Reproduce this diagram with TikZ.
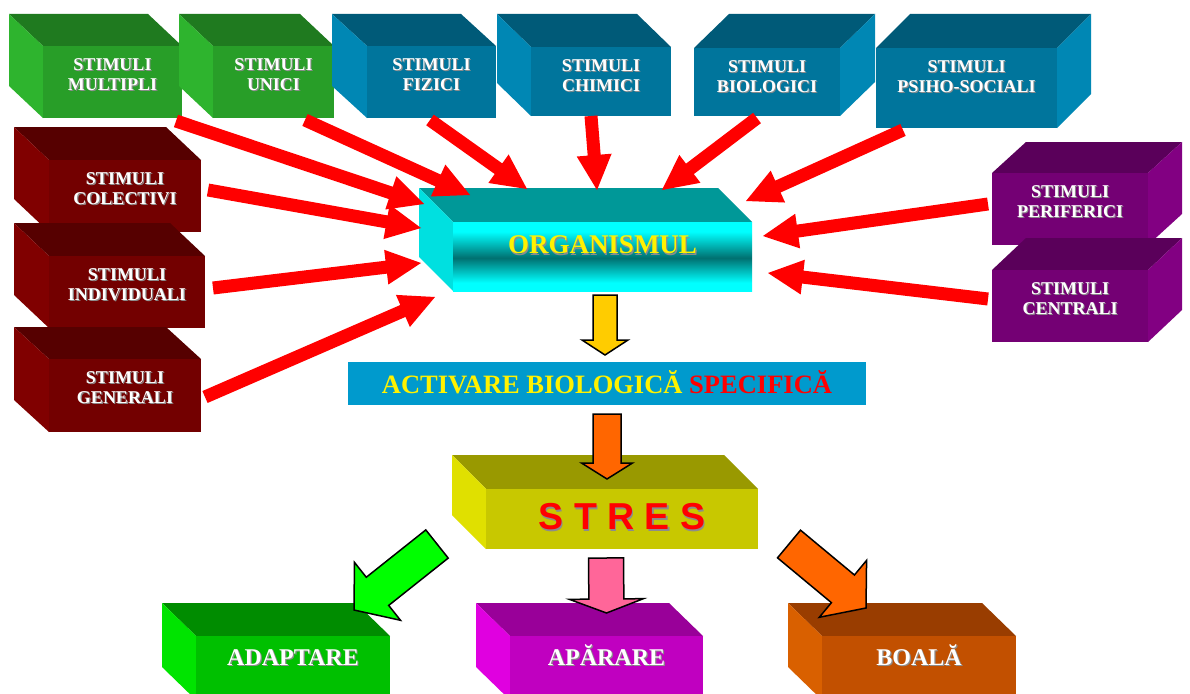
\documentclass[tikz,border=0pt]{standalone}
\usepackage{fontspec}
\setmainfont{Liberation Serif}
\newfontfamily\arialfont{Liberation Sans}
\usetikzlibrary{calc}

\definecolor{grnfront}{HTML}{289E28}
\definecolor{grntop}{HTML}{1F7A1F}
\definecolor{grnside}{HTML}{2EB42E}
\definecolor{blufront}{HTML}{00759C}
\definecolor{blutop}{HTML}{005A78}
\definecolor{bluside}{HTML}{0087B4}
\definecolor{drfront}{HTML}{730000}
\definecolor{drtop}{HTML}{560000}
\definecolor{drside}{HTML}{800000}
\definecolor{purfront}{HTML}{740074}
\definecolor{purtop}{HTML}{5A005A}
\definecolor{purside}{HTML}{820082}
\definecolor{cyatop}{HTML}{009898}
\definecolor{cyaside}{HTML}{00E0E0}
\definecolor{orgdark}{HTML}{007070}
\definecolor{yelfront}{HTML}{C8C800}
\definecolor{yeltop}{HTML}{999900}
\definecolor{yelside}{HTML}{E0E000}
\definecolor{adfront}{HTML}{00C000}
\definecolor{adtop}{HTML}{008C00}
\definecolor{adside}{HTML}{00E400}
\definecolor{apfront}{HTML}{C000C0}
\definecolor{aptop}{HTML}{990099}
\definecolor{apside}{HTML}{E000E0}
\definecolor{bofront}{HTML}{C25000}
\definecolor{botop}{HTML}{993D00}
\definecolor{boside}{HTML}{D96000}
\definecolor{barblue}{HTML}{009ACD}
\definecolor{shadowgray}{HTML}{8C8C8C}
\definecolor{arrred}{HTML}{FF0000}
\definecolor{arryel}{HTML}{FFCC00}
\definecolor{arrora}{HTML}{FF6600}
\definecolor{arrpink}{HTML}{FF6699}
\definecolor{arrgrn}{HTML}{00FF00}

\pgfdeclareverticalshading{orgsh}{100bp}{color(0bp)=(cyan); color(31bp)=(cyan); color(49bp)=(orgdark); color(68bp)=(cyan); color(100bp)=(cyan)}

\newcommand\shd[2]{\leavevmode\rlap{\kern1.2pt\smash{\raisebox{-1.2pt}{\textcolor{shadowgray}{#2}}}}\textcolor{#1}{#2}}
\newcommand\stimtext[1]{\shd{white}{STIMULI}\\\shd{white}{#1}}

% cube with visible left side: name, x1, y1, x2, y2, dx, dy, colour prefix
\newcommand\cubeL[8]{%
  \fill[#8top] (#2,#3) -- (#4,#3) -- ({#4+(#6)},{#3+(#7)}) -- ({#2+(#6)},{#3+(#7)}) -- cycle;
  \fill[#8side] (#2,#3) -- (#2,#5) -- ({#2+(#6)},{#5+(#7)}) -- ({#2+(#6)},{#3+(#7)}) -- cycle;
  \node[face,fill=#8front,minimum width={#4pt-#2pt},minimum height={#5pt-#3pt}] (#1) at ({(#2+#4)/2},{(#3+#5)/2}) {};}
% cube with visible right side
\newcommand\cubeR[8]{%
  \fill[#8top] (#2,#3) -- (#4,#3) -- ({#4+(#6)},{#3+(#7)}) -- ({#2+(#6)},{#3+(#7)}) -- cycle;
  \fill[#8side] (#4,#3) -- (#4,#5) -- ({#4+(#6)},{#5+(#7)}) -- ({#4+(#6)},{#3+(#7)}) -- cycle;
  \node[face,fill=#8front,minimum width={#4pt-#2pt},minimum height={#5pt-#3pt}] (#1) at ({(#2+#4)/2},{(#3+#5)/2}) {};}
% block arrow: tail, tip, shaft half width, head half width, head length, style
\newcommand\blockarrow[6]{%
  \coordinate (ba-t) at #1;
  \coordinate (ba-p) at #2;
  \coordinate (ba-h) at ($(ba-p)!#5pt!(ba-t)$);
  \path[#6] ($(ba-t)!#3pt!90:(ba-p)$) -- ($(ba-h)!#3pt!90:(ba-p)$) -- ($(ba-h)!#4pt!90:(ba-p)$) -- (ba-p)
    -- ($(ba-h)!#4pt!-90:(ba-p)$) -- ($(ba-h)!#3pt!-90:(ba-p)$) -- ($(ba-t)!#3pt!-90:(ba-p)$) -- cycle;}

\begin{document}
\begin{tikzpicture}[x=1pt,y=-1pt,
  face/.style={rectangle,inner sep=0pt,outer sep=0pt,draw=none},
  stxt/.style={font=\fontsize{18}{20}\selectfont\bfseries,align=center,inner sep=0pt},
  bigtxt/.style={font=\fontsize{24}{26}\selectfont\bfseries,inner sep=0pt,anchor=base},
  redarr/.style={fill=arrred},
  blk/.style={draw=black,line width=1.5pt,line join=miter,fill=#1}]
\useasboundingbox (0,0) rectangle (1190,693);
\clip (0,0) rectangle (1190,693);
\fill[white] (0,0) rectangle (1190,693);

% top row
\cubeL{mult}{43}{46}{182}{118}{-34}{-32}{grn}
\cubeL{unici}{213}{46}{334}{118}{-34}{-32}{grn}
\cubeL{fiz}{367}{46}{496}{118}{-35}{-32}{blu}
\cubeL{chim}{531}{47}{671}{116}{-34}{-33}{blu}
\cubeR{bio}{694}{48}{840}{116}{35}{-34}{blu}
\cubeR{psi}{876}{48}{1057}{128}{34}{-34}{blu}
% left column
\cubeL{col}{49}{160}{201}{232}{-35}{-33}{dr}
\cubeL{ind}{49}{256}{205}{328}{-35}{-33}{dr}
\cubeL{gen}{49}{359}{201}{432}{-35}{-32}{dr}
% right column
\cubeR{per}{992}{173}{1148}{245}{34}{-31}{pur}
\cubeR{cen}{992}{270}{1148}{342}{34}{-32}{pur}
% organismul
\fill[cyatop] (453,222) -- (752,222) -- (718,188) -- (419,188) -- cycle;
\fill[cyaside] (453,222) -- (453,291) -- (419,257) -- (419,188) -- cycle;
\node[face,shade,shading=orgsh,minimum width=299pt,minimum height=69pt] (org) at (602.5,256.5) {};
% activare bar
\node[face,fill=barblue,minimum width=518pt,minimum height=43pt] (bar) at (607,383.5) {};
% stres
\cubeL{stres}{486}{489}{758}{549}{-34}{-34}{yel}
% bottom
\cubeL{adapt}{196}{636}{390}{700}{-34}{-33}{ad}
\cubeL{apar}{510}{636}{703}{700}{-34}{-33}{ap}
\cubeL{boala}{822}{636}{1016}{700}{-34}{-33}{bo}

% texts
\node[stxt] (mult-t) at ($(mult.north)+(0,28.5)$) {\stimtext{MULTIPLI}};
\node[stxt] (unici-t) at ($(unici.north)+(0,28.5)$) {\stimtext{UNICI}};
\node[stxt] (fiz-t) at ($(fiz.north)+(0,28.5)$) {\stimtext{FIZICI}};
\node[stxt] (chim-t) at ($(chim.north)+(0,28.5)$) {\stimtext{CHIMICI}};
\node[stxt] (bio-t) at ($(bio.north)+(0,28.5)$) {\stimtext{BIOLOGICI}};
\node[stxt] (psi-t) at ($(psi.north)+(0,28.5)$) {\stimtext{PSIHO-SOCIALI}};
\node[stxt] (col-t) at ($(col.north)+(0,28.5)$) {\stimtext{COLECTIVI}};
\node[stxt] (ind-t) at ($(ind.north)+(0,28.5)$) {\stimtext{INDIVIDUALI}};
\node[stxt] (gen-t) at ($(gen.north)+(0,28.5)$) {\stimtext{GENERALI}};
\node[stxt] (per-t) at ($(per.north)+(0,28.5)$) {\stimtext{PERIFERICI}};
\node[stxt] (cen-t) at ($(cen.north)+(0,28.5)$) {\stimtext{CENTRALI}};
\node[font=\fontsize{27}{30}\selectfont\bfseries,inner sep=0pt] (org-t) at ($(org.center)+(0,-11.5)$) {\shd{yellow}{ORGANISMUL}};
\node[font=\fontsize{26.5}{30}\selectfont\bfseries,inner sep=0pt,anchor=base,text=yellow] (bar-t) at ($(bar.south)+(0,-12)$) {ACTIVARE BIOLOGICĂ \textcolor{red}{SPECIFICĂ}};
\node[font=\arialfont\fontsize{37.5}{40}\selectfont\bfseries,inner sep=0pt] (stres-t) at ($(stres.center)+(0,-2)$) {\shd{red}{S T R E S}};
\node[bigtxt] (adapt-t) at ($(adapt.north)+(0,29)$) {\shd{white}{ADAPTARE}};
\node[bigtxt] (apar-t) at ($(apar.north)+(0,29)$) {\shd{white}{APĂRARE}};
\node[bigtxt] (boala-t) at ($(boala.north)+(0,29)$) {\shd{white}{BOALĂ}};

% red arrows into ORGANISMUL
\blockarrow{([shift={(-6,3)}]mult.south east)}{([shift={(-29,-18)}]org.north west)}{6.5}{17.5}{35}{redarr}
\blockarrow{([shift={(-29,2)}]unici.south east)}{([shift={(17,-27)}]org.north west)}{6.5}{17.5}{35}{redarr}
\blockarrow{([shift={(-1.5,2)}]fiz.south)}{([shift={(74,-33)}]org.north west)}{6.5}{17.5}{35}{redarr}
\blockarrow{([shift={(-10,0)}]chim.south)}{([shift={(144,-32)}]org.north west)}{6.5}{17.5}{35}{redarr}
\blockarrow{([shift={(-10,2)}]bio.south)}{([shift={(209,-32)}]org.north west)}{6.5}{17.5}{35}{redarr}
\blockarrow{([shift={(27,2)}]psi.south west)}{([shift={(-6,-21)}]org.north east)}{6.5}{17.5}{35}{redarr}
\blockarrow{([shift={(7,-6)}]col.east)}{([shift={(-32,-28.5)}]org.west)}{6.5}{17.5}{35}{redarr}
\blockarrow{([shift={(8,-4)}]ind.east)}{([shift={(-32,6.5)}]org.west)}{6.5}{17.5}{35}{redarr}
\blockarrow{([shift={(4,1.5)}]gen.east)}{([shift={(-18,40.5)}]org.west)}{6.5}{17.5}{35}{redarr}
\blockarrow{([shift={(-4,-5)}]per.west)}{([shift={(11,-20.5)}]org.east)}{6.5}{17.5}{35}{redarr}
\blockarrow{([shift={(-4,-7)}]cen.west)}{([shift={(16,16.5)}]org.east)}{6.5}{17.5}{35}{redarr}

% outlined block arrows
\blockarrow{([shift={(2.5,4)}]org.south)}{([shift={(-2,-7)}]bar.north)}{12}{23}{15}{blk=arryel}
\blockarrow{([shift={(0,9)}]bar.south)}{([shift={(-15,-10)}]stres.north)}{14}{25.5}{16}{blk=arrora}
\blockarrow{([shift={(-16,9)}]stres.south)}{([shift={(0,-23)}]apar.north)}{17.5}{37}{14}{blk=arrpink}
\blockarrow{([shift={(-49,-5)}]stres.south west)}{([shift={(61,-26)}]adapt.north)}{18}{37}{30}{blk=arrgrn}
\blockarrow{([shift={(31,-5)}]stres.south east)}{([shift={(-53,-28)}]boala.north)}{18}{37}{30}{blk=arrora}
\end{tikzpicture}
\end{document}
